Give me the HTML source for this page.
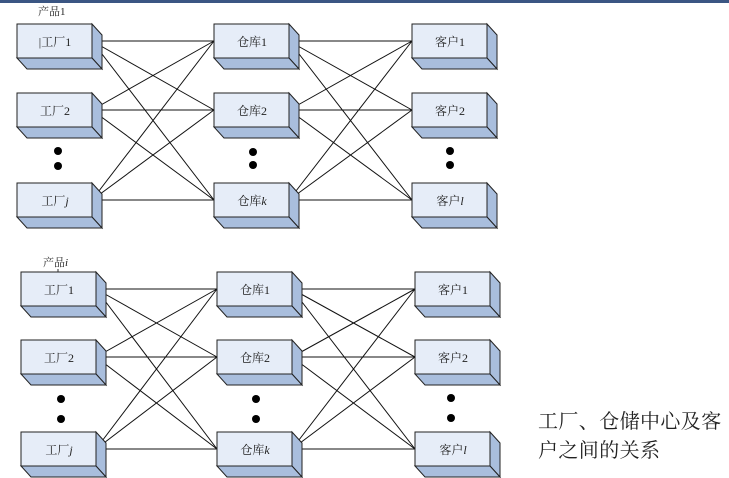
<!DOCTYPE html>
<html><head><meta charset="utf-8"><style>
html,body{margin:0;padding:0;background:#fff;}
svg{display:block;}
text{font-family:"Liberation Serif","Noto Serif CJK SC","Noto Sans CJK SC",serif;fill:#222;}
</style></head><body>
<svg width="729" height="478" viewBox="0 0 729 478" xmlns="http://www.w3.org/2000/svg">
<defs>
<g id="box">
<rect x="0" y="0" width="75" height="34" fill="#e6edf8" stroke="#222" stroke-width="1"/>
<polygon points="75,0 85,11 85,45 75,34" fill="#a9bedd" stroke="#222" stroke-width="1"/>
<polygon points="0,34 75,34 85,45 10,45" fill="#a9bedd" stroke="#222" stroke-width="1"/>
</g>
</defs>
<rect x="0" y="0" width="729" height="3" fill="#3b5683"/>
<g stroke="#111" stroke-width="1" fill="none">
<!-- group A F->W -->
<line x1="92" y1="41" x2="214" y2="41"/><line x1="92" y1="41" x2="214" y2="110"/><line x1="92" y1="41" x2="214" y2="200"/>
<line x1="92" y1="110" x2="214" y2="41"/><line x1="92" y1="110" x2="214" y2="110"/><line x1="92" y1="110" x2="214" y2="200"/>
<line x1="92" y1="200" x2="214" y2="41"/><line x1="92" y1="200" x2="214" y2="110"/><line x1="92" y1="200" x2="214" y2="200"/>
<!-- group A W->C -->
<line x1="289" y1="41" x2="412" y2="41"/><line x1="289" y1="41" x2="412" y2="110"/><line x1="289" y1="41" x2="412" y2="200"/>
<line x1="289" y1="110" x2="412" y2="41"/><line x1="289" y1="110" x2="412" y2="110"/><line x1="289" y1="110" x2="412" y2="200"/>
<line x1="289" y1="200" x2="412" y2="41"/><line x1="289" y1="200" x2="412" y2="110"/><line x1="289" y1="200" x2="412" y2="200"/>
<!-- group B F->W -->
<line x1="96" y1="289" x2="217" y2="289"/><line x1="96" y1="289" x2="217" y2="357"/><line x1="96" y1="289" x2="217" y2="449"/>
<line x1="96" y1="357" x2="217" y2="289"/><line x1="96" y1="357" x2="217" y2="357"/><line x1="96" y1="357" x2="217" y2="449"/>
<line x1="96" y1="449" x2="217" y2="289"/><line x1="96" y1="449" x2="217" y2="357"/><line x1="96" y1="449" x2="217" y2="449"/>
<!-- group B W->C -->
<line x1="292" y1="289" x2="415" y2="289"/><line x1="292" y1="289" x2="415" y2="357"/><line x1="292" y1="289" x2="415" y2="449"/>
<line x1="292" y1="357" x2="415" y2="289"/><line x1="292" y1="357" x2="415" y2="357"/><line x1="292" y1="357" x2="415" y2="449"/>
<line x1="292" y1="449" x2="415" y2="289"/><line x1="292" y1="449" x2="415" y2="357"/><line x1="292" y1="449" x2="415" y2="449"/>
</g>
<!-- boxes group A -->
<use href="#box" x="17" y="24"/><use href="#box" x="17" y="93"/><use href="#box" x="17" y="183"/>
<use href="#box" x="214" y="24"/><use href="#box" x="214" y="93"/><use href="#box" x="214" y="183"/>
<use href="#box" x="412" y="24"/><use href="#box" x="412" y="93"/><use href="#box" x="412" y="183"/>
<!-- boxes group B -->
<use href="#box" x="21" y="272"/><use href="#box" x="21" y="340"/><use href="#box" x="21" y="432"/>
<use href="#box" x="217" y="272"/><use href="#box" x="217" y="340"/><use href="#box" x="217" y="432"/>
<use href="#box" x="415" y="272"/><use href="#box" x="415" y="340"/><use href="#box" x="415" y="432"/>
<!-- dots -->
<g fill="#000">
<circle cx="58" cy="151" r="4"/><circle cx="58" cy="166" r="4"/>
<circle cx="253" cy="152" r="4"/><circle cx="253" cy="165" r="4"/>
<circle cx="450" cy="151" r="4"/><circle cx="450" cy="165" r="4"/>
<circle cx="61" cy="399" r="4"/><circle cx="61" cy="419" r="4"/>
<circle cx="256" cy="399" r="4"/><circle cx="256" cy="419" r="4"/>
<circle cx="451" cy="398" r="4"/><circle cx="451" cy="418" r="4"/>
</g>
<g font-size="12" text-anchor="middle">
<text x="55" y="46">|工厂1</text><text x="55" y="115">工厂2</text><text x="55" y="205">工厂<tspan font-style="italic">j</tspan></text>
<text x="252" y="46">仓库1</text><text x="252" y="115">仓库2</text><text x="252" y="205">仓库<tspan font-style="italic">k</tspan></text>
<text x="450" y="46">客户1</text><text x="450" y="115">客户2</text><text x="450" y="205">客户<tspan font-style="italic">l</tspan></text>
<text x="59" y="294">工厂1</text><text x="59" y="362">工厂2</text><text x="59" y="454">工厂<tspan font-style="italic">j</tspan></text>
<text x="255" y="294">仓库1</text><text x="255" y="362">仓库2</text><text x="255" y="454">仓库<tspan font-style="italic">k</tspan></text>
<text x="453" y="294">客户1</text><text x="453" y="362">客户2</text><text x="453" y="454">客户<tspan font-style="italic">l</tspan></text>
</g>
<text x="38" y="15" font-size="11">产品1</text>
<text x="43" y="266" font-size="11">产品<tspan font-style="italic">i</tspan></text>
<line x1="58" y1="269" x2="58" y2="272" stroke="#333"/>
<g font-size="20" font-family="'Noto Sans CJK SC',sans-serif">
<text x="538" y="428" letter-spacing="0.4">工厂、仓储中心及客</text>
<text x="538" y="457" letter-spacing="0.4">户之间的关系</text>
</g>
</svg>
</body></html>
